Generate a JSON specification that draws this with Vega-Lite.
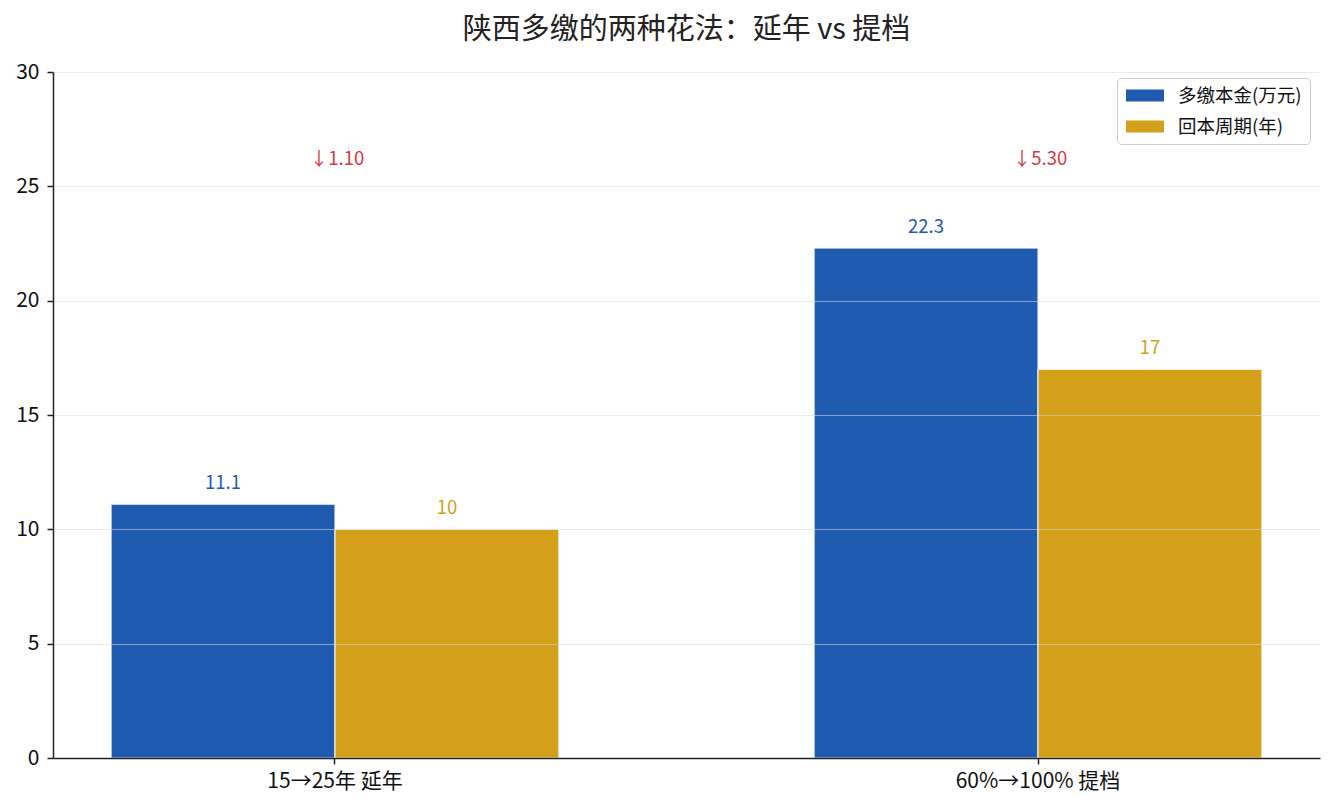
{
  "$schema": "https://vega.github.io/schema/vega-lite/v6.json",
  "width": 1267,
  "height": 686,
  "autosize": {"type": "none"},
  "padding": {"left": 53, "top": 72, "right": 15, "bottom": 52},
  "background": "#ffffff",
  "title": {
    "text": "陕西多缴的两种花法：延年 vs 提档",
    "font": "Noto Sans CJK SC",
    "fontSize": 29,
    "fontWeight": "normal",
    "color": "#222222",
    "anchor": "middle",
    "offset": 16
  },
  "config": {
    "view": {"stroke": null},
    "font": "Noto Sans CJK SC"
  },
  "datasets": {
    "bars": [
      {"group": "15→25年 延年", "series": "多缴本金(万元)", "value": 11.1},
      {"group": "15→25年 延年", "series": "回本周期(年)", "value": 10},
      {"group": "60%→100% 提档", "series": "多缴本金(万元)", "value": 22.3},
      {"group": "60%→100% 提档", "series": "回本周期(年)", "value": 17}
    ],
    "notes": [
      {"group": "15→25年 延年", "label": "↓1.10"},
      {"group": "60%→100% 提档", "label": "↓5.30"}
    ]
  },
  "encoding": {
    "x": {
      "field": "group",
      "type": "nominal",
      "sort": null,
      "title": null,
      "scale": {"paddingInner": 0.363, "paddingOuter": 0.0826},
      "axis": {
        "labelAngle": 0,
        "labelFontSize": 21,
        "labelColor": "#111111",
        "labelPadding": 6,
        "tickColor": "#222222",
        "tickSize": 6,
        "tickWidth": 1.5,
        "domainColor": "#222222",
        "domainWidth": 1.5,
        "grid": false,
        "zindex": 1
      }
    }
  },
  "layer": [
    {
      "data": {"name": "bars"},
      "mark": {"type": "bar", "stroke": "#ffffff", "strokeWidth": 1},
      "encoding": {
        "xOffset": {
          "field": "series",
          "type": "nominal",
          "scale": {"domain": ["多缴本金(万元)", "回本周期(年)"], "paddingInner": 0, "paddingOuter": 0}
        },
        "y": {
          "field": "value",
          "type": "quantitative",
          "title": null,
          "scale": {"domain": [0, 30], "nice": false},
          "axis": {
            "values": [0, 5, 10, 15, 20, 25, 30],
            "labelFontSize": 21,
            "labelColor": "#111111",
            "labelPadding": 8,
            "tickColor": "#222222",
            "tickSize": 6,
            "tickWidth": 1.5,
            "domainColor": "#222222",
            "domainWidth": 1.5,
            "grid": true,
            "gridColor": "#d8d8d8",
            "gridOpacity": 0.55,
            "gridWidth": 1,
            "zindex": 1
          }
        },
        "color": {
          "field": "series",
          "type": "nominal",
          "scale": {"domain": ["多缴本金(万元)", "回本周期(年)"], "range": ["#1f5bb0", "#d4a01a"]},
          "legend": {
            "title": null,
            "orient": "none",
            "legendX": 1064,
            "legendY": 6,
            "symbolType": "M-2,-0.63H2V0.63H-2Z",
            "symbolSize": 361,
            "symbolStrokeWidth": 0,
            "symbolOffset": 10.5,
            "labelFontSize": 18.5,
            "labelColor": "#111111",
            "labelOffset": 23.5,
            "rowPadding": 12,
            "padding": 8,
            "strokeColor": "#cccccc",
            "cornerRadius": 4,
            "fillColor": "#ffffff"
          }
        }
      }
    },
    {
      "data": {"name": "bars"},
      "mark": {"type": "text", "fontSize": 18.5, "baseline": "bottom", "dy": -11},
      "encoding": {
        "xOffset": {
          "field": "series",
          "type": "nominal",
          "scale": {"domain": ["多缴本金(万元)", "回本周期(年)"], "paddingInner": 0, "paddingOuter": 0}
        },
        "y": {"field": "value", "type": "quantitative"},
        "text": {"field": "value", "type": "quantitative"},
        "color": {"field": "series", "type": "nominal", "legend": null}
      }
    },
    {
      "data": {"name": "notes"},
      "mark": {"type": "text", "fontSize": 18.5, "color": "#d9363e", "baseline": "middle", "dx": 2},
      "encoding": {
        "y": {"datum": 26.2, "type": "quantitative"},
        "text": {"field": "label"}
      }
    }
  ]
}
